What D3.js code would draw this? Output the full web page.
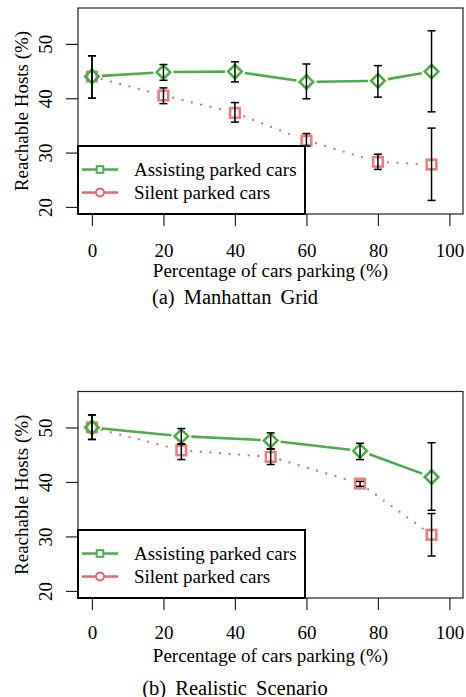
<!DOCTYPE html>
<html><head><meta charset="utf-8">
<script src="https://cdn.jsdelivr.net/npm/d3@7"></script>
<style>
body{margin:0;background:#fff}
svg{display:block}
</style>
</head><body><svg id="c" width="466" height="697"></svg>
<script>
// ---- data ----
const xTicks = [0, 20, 40, 60, 80, 100];
const yTicks = [20, 30, 40, 50];
const seriesNames = ["Assisting parked cars", "Silent parked cars"];
const xLabel = "Percentage of cars parking (%)";
const yLabel = "Reachable Hosts (%)";
const captions = ["(a) Manhattan Grid", "(b) Realistic Scenario"];

const xA = [0, 20, 40, 60, 80, 95];
const assistA   = [44.0, 44.8, 44.9, 43.0, 43.2, 44.9];
const assistALo = [40.0, 43.3, 43.0, 39.9, 40.2, 37.5];
const assistAHi = [47.8, 46.2, 46.7, 46.3, 46.0, 52.4];
const silentA   = [44.0, 40.5, 37.3, 32.2, 28.3, 27.8];
const silentALo = [40.0, 39.0, 35.6, 31.2, 26.9, 21.2];
const silentAHi = [47.8, 41.9, 39.2, 33.5, 29.7, 34.5];

const xB = [0, 25, 50, 75, 95];
const assistB   = [50.0, 48.4, 47.6, 45.7, 40.9];
const assistBLo = [47.8, 47.0, 46.1, 44.1, 34.8];
const assistBHi = [52.3, 49.8, 49.0, 47.1, 47.2];
const silentB   = [50.0, 45.8, 44.6, 39.7, 30.3];
const silentBLo = [47.8, 44.1, 43.2, 39.2, 26.4];
const silentBHi = [52.3, 46.9, 46.0, 40.1, 34.2];

const GREEN = "#4cad4a";
const RED = "#e4676a";
const FONT = "'Liberation Serif', 'DejaVu Serif', serif";
const FS = 19;

const svg = d3.select("#c");

function panel(cfg) {
  const g = svg.append("g");
  const L = 78, R = 463, T = cfg.top, B = cfg.bottom;
  const x = d3.scaleLinear().domain([-3.9, 103.8]).range([L, R]);
  const y = d3.scaleLinear().domain([18.7, 56.6]).range([B, T]);

  g.append("rect").attr("x", L).attr("y", T).attr("width", R - L).attr("height", B - T)
    .attr("fill", "none").attr("stroke", "#222").attr("stroke-width", 1.2);

  const xa = g.append("g").attr("transform", `translate(0,${B})`)
    .call(d3.axisBottom(x).tickValues(xTicks).tickSize(12).tickSizeOuter(0).tickFormat(d3.format("d")));
  xa.attr("font-family", FONT).attr("font-size", FS);
  xa.select(".domain").remove();
  xa.selectAll("line").attr("stroke", "#222").attr("stroke-width", 1.2);
  xa.selectAll("text").attr("y", cfg.xtl).attr("dy", null).attr("fill", "#000");

  const ya = g.append("g").attr("transform", `translate(${L},0)`)
    .call(d3.axisLeft(y).tickValues(yTicks).tickSize(12).tickSizeOuter(0).tickFormat(d3.format("d")));
  ya.attr("font-family", FONT).attr("font-size", FS);
  ya.select(".domain").remove();
  ya.selectAll("line").attr("stroke", "#222").attr("stroke-width", 1.2);
  ya.selectAll("text").attr("x", null).attr("dy", null).attr("fill", "#000")
    .attr("text-anchor", "middle")
    .attr("transform", "translate(-26,0) rotate(-90)").attr("y", 0);

  g.append("text").attr("x", (L + R) / 2).attr("y", B + cfg.xlab)
    .attr("text-anchor", "middle").attr("font-size", FS).text(xLabel);
  g.append("text").attr("transform", `translate(28,${(T + B) / 2}) rotate(-90)`)
    .attr("text-anchor", "middle").attr("font-size", FS).text(yLabel);
  g.append("text").attr("x", 235).attr("y", cfg.capY)
    .attr("text-anchor", "middle").attr("font-size", 20.5).attr("word-spacing", "4px").text(cfg.caption);

  function gapped(xs, vs, color, dotted) {
    const gap = 10;
    for (let i = 0; i < xs.length - 1; i++) {
      const x1 = x(xs[i]), y1 = y(vs[i]), x2 = x(xs[i + 1]), y2 = y(vs[i + 1]);
      const dx = x2 - x1, dy = y2 - y1, len = Math.hypot(dx, dy);
      if (len <= 2 * gap) continue;
      const ux = dx / len, uy = dy / len;
      const seg = g.append("path")
        .attr("d", d3.line()([[x1 + ux * gap, y1 + uy * gap], [x2 - ux * gap, y2 - uy * gap]]))
        .attr("fill", "none").attr("stroke", color);
      if (dotted) seg.attr("stroke-width", 2.3).attr("stroke-linecap", "round").attr("stroke-dasharray", "0 9.6");
      else seg.attr("stroke-width", 2.6);
    }
  }
  gapped(cfg.xs, cfg.silent, RED, true);
  gapped(cfg.xs, cfg.assist, GREEN, false);

  g.selectAll(".sq").data(cfg.xs).enter().append("rect")
    .attr("x", (d) => x(d) - 4.8).attr("y", (d, i) => y(cfg.silent[i]) - 4.8)
    .attr("width", 9.6).attr("height", 9.6).attr("fill", "none")
    .attr("stroke", RED).attr("stroke-width", 2.6).attr("stroke-opacity", 0.85);
  g.selectAll(".dm").data(cfg.xs).enter().append("path")
    .attr("d", (d, i) => {
      const cx = x(d), cy = y(cfg.assist[i]), r = 6.8;
      return `M${cx},${cy - r}L${cx + r},${cy}L${cx},${cy + r}L${cx - r},${cy}Z`;
    })
    .attr("fill", "none").attr("stroke", GREEN).attr("stroke-width", 2.6);

  function errs(xs, lo, hi) {
    xs.forEach((d, i) => {
      const cx = x(d), ylo = y(lo[i]), yhi = y(hi[i]);
      g.append("line").attr("x1", cx).attr("x2", cx).attr("y1", yhi).attr("y2", ylo)
        .attr("stroke", "#000").attr("stroke-width", 1.5);
      [ylo, yhi].forEach((yy) => g.append("line").attr("x1", cx - 4).attr("x2", cx + 4)
        .attr("y1", yy).attr("y2", yy).attr("stroke", "#000").attr("stroke-width", 1.5));
    });
  }
  errs(cfg.xs, cfg.assistLo, cfg.assistHi);
  errs(cfg.xs, cfg.silentLo, cfg.silentHi);

  const lg = g.append("g");
  lg.append("rect").attr("x", L).attr("y", B - 68).attr("width", 227).attr("height", 68)
    .attr("fill", "#fff").attr("stroke", "#000").attr("stroke-width", 2);
  const rows = [B - 44.5, B - 21.5];
  const cols = [GREEN, RED];
  rows.forEach((ry, i) => {
    lg.append("line").attr("x1", 82).attr("x2", 118).attr("y1", ry).attr("y2", ry)
      .attr("stroke", cols[i]).attr("stroke-width", 2.6);
    if (i === 0) {
      lg.append("rect").attr("x", 100 - 3.3).attr("y", ry - 3.3).attr("width", 6.6).attr("height", 6.6)
        .attr("fill", "#fff").attr("stroke", cols[i]).attr("stroke-width", 2);
    } else {
      lg.append("circle").attr("cx", 100).attr("cy", ry).attr("r", 4)
        .attr("fill", "#fff").attr("stroke", cols[i]).attr("stroke-width", 2);
    }
    lg.append("text").attr("x", 134).attr("y", ry).attr("dy", "0.32em")
      .attr("font-size", FS).text(seriesNames[i]);
  });
}

panel({top: 8, bottom: 214, xtl: 42.5, xlab: 62.6, capY: 303.6, caption: captions[0],
  xs: xA, assist: assistA, assistLo: assistALo, assistHi: assistAHi,
  silent: silentA, silentLo: silentALo, silentHi: silentAHi});
panel({top: 391.5, bottom: 598, xtl: 40.5, xlab: 63.6, capY: 695, caption: captions[1],
  xs: xB, assist: assistB, assistLo: assistBLo, assistHi: assistBHi,
  silent: silentB, silentLo: silentBLo, silentHi: silentBHi});

svg.selectAll("text").attr("font-family", FONT).style("font-family", FONT).attr("fill", "#000");
</script>
</body></html>
